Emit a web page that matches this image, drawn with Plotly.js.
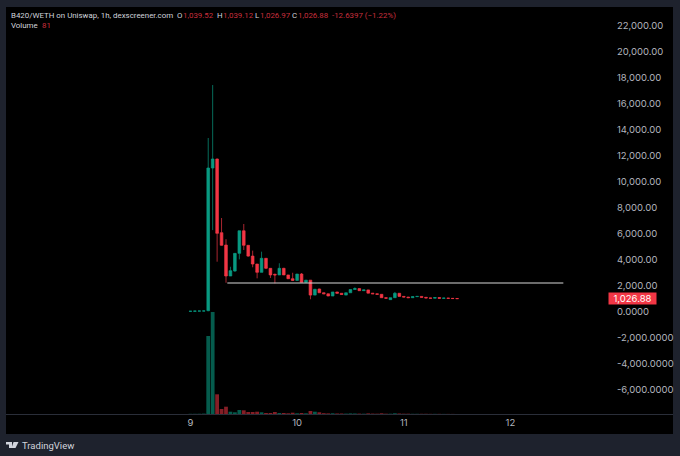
<!DOCTYPE html>
<html>
<head>
<meta charset="utf-8">
<script src="https://cdn.plot.ly/plotly-3.0.1.min.js"></script>
<style>html,body{margin:0;padding:0;background:#1e222d}#chart{width:680px;height:456px}</style>
</head>
<body>
<div id="chart"></div>
<script>
// hours since the start of the 9th, one candle per hour
var hours = [0,1,2,3,4,5,6,7,8,9,10,11,12,13,14,15,16,17,18,19,20,21,22,23,24,25,26,27,28,29,30,31,32,33,34,35,36,37,38,39,40,41,42,43,44,45,46,47,48,49,50,51,52,53,54,55,56,57,58,59,60];
var open_ = [50,60,70,75,100,11077,11770,6100,5150,2770,3150,4510,6250,5130,4300,3690,3050,4130,3360,2900,2850,3360,2850,2560,2430,2920,2280,2450,1300,1770,1480,1400,1230,1540,1440,1300,1480,1730,1800,1640,1700,1450,1400,1360,1100,950,1100,1440,1200,1150,1100,1180,1200,1130,1080,1060,1110,1050,1070,1050,1039.52];
var high_ = [60,70,80,90,13385,17460,11800,7230,5600,3480,4510,6250,6770,5130,4720,3690,4640,4130,3360,2950,3750,3400,2850,3020,2920,3000,2450,2450,1750,1800,1490,1410,1540,1550,1450,1480,1730,1900,1810,1700,1710,1460,1410,1370,1110,1100,1540,1450,1210,1160,1190,1210,1210,1140,1090,1120,1120,1080,1080,1060,1039.12];
var low_ = [50,60,70,75,60,6300,3870,5100,2250,2770,3100,4050,4770,4250,3440,2590,3050,3300,2620,2200,2850,2850,2560,2380,2430,2280,2280,980,1290,1470,1390,1220,1230,1430,1340,1300,1480,1730,1630,1640,1440,1390,1350,1090,1050,950,1100,1190,1140,1090,1100,1170,1120,1070,1050,1050,1040,1040,1040,1030,1026.97];
var close_ = [60,70,75,80,11077,11770,6050,5130,2770,3180,4510,6250,5130,4300,3690,3050,4130,3360,2850,2850,3360,2850,2560,2430,2920,2280,2450,1300,1750,1480,1400,1230,1540,1440,1350,1480,1730,1800,1640,1700,1450,1400,1360,1100,1060,1100,1440,1200,1150,1100,1180,1200,1130,1080,1060,1110,1050,1070,1050,1035,1026.88];
var volume = [2000,2000,2500,4000,780000,1020000,197000,50000,73000,23000,17000,40000,37000,20000,20000,23000,17000,10000,10000,20000,10000,10000,7000,13000,7000,10000,7000,30000,23000,17000,8000,6000,7000,5000,5000,4000,6000,5000,4000,3000,6000,4000,3000,7000,3000,3000,7000,5000,3000,3000,2000,2000,2000,2000,1500,1500,1500,1000,1000,800,81];

var levelHours = [8.3,83.9];
var levelPrice = [2230,2230];

var priceTicks = [-6000,-4000,-2000,0,2000,4000,6000,8000,10000,12000,14000,16000,18000,20000,22000];
var priceLabels = ['-6,000.0000','-4,000.0000','-2,000.0000','0.0000','2,000.00','4,000.00','6,000.00','8,000.00','10,000.00','12,000.00','14,000.00','16,000.00','18,000.00','20,000.00','22,000.00'];
var dayTicks = [0,24,48,72];
var dayLabels = ['9','10','11','12'];
var lastPrice = 1026.88;

var green = '#089981', red = '#f23645';
var font = 'Roboto, Inter, sans-serif';

var volColors = close_.map(function(c, i){
    return c >= open_[i] ? 'rgba(8,153,129,0.6)' : 'rgba(242,54,69,0.55)';
});

var volumeBars = {
    x: hours, y: volume, type: 'bar', yaxis: 'y2',
    marker: {color: volColors, line: {width: 0}},
    width: 0.85, hoverinfo: 'skip'
};
var candles = {
    x: hours, open: open_, high: high_, low: low_, close: close_,
    type: 'candlestick',
    increasing: {line: {color: green, width: 0.7}, fillcolor: green},
    decreasing: {line: {color: red, width: 0.7}, fillcolor: red}
};
var level = {
    x: levelHours, y: levelPrice, type: 'scatter', mode: 'lines',
    line: {color: '#d8d8d8', width: 1.2}, hoverinfo: 'skip'
};

// paper coords from window pixels
function px(x){ return (x - 6) / 600; }
function py(y){ return (414 - y) / 406; }

// annotations carry about 2px of padding, take it off so x is where the text starts
function header(text, x, y, color){
    return {text: text, xref: 'paper', yref: 'paper', x: px(x - 2), y: py(y), xanchor: 'left', yanchor: 'middle',
        showarrow: false, font: {family: font, size: 7.9, color: color}};
}

var dim = '#d1d4dc', redText = '#c92f3d';
var layout = {
    width: 680, height: 456,
    margin: {l: 6, r: 74, t: 8, b: 42},
    paper_bgcolor: '#1e222d', plot_bgcolor: '#000000',
    showlegend: false,
    boxgap: 0.15,
    font: {family: 'Inter, Roboto, sans-serif', color: '#b2b5be'},
    xaxis: {
        range: [-41.5, 93.5], tickmode: 'array', tickvals: dayTicks, ticktext: dayLabels,
        rangeslider: {visible: false}, showgrid: false, zeroline: false,
        showline: true, linecolor: '#2a2e39', linewidth: 1, ticks: '',
        tickfont: {size: 9.5, color: '#b2b5be'}
    },
    yaxis: {
        range: [-7846, 23385], side: 'right', tickmode: 'array', tickvals: priceTicks, ticktext: priceLabels,
        showgrid: false, zeroline: false, ticks: 'outside', ticklen: 8, tickcolor: 'rgba(0,0,0,0)',
        tickfont: {size: 9.5, color: '#b2b5be'}
    },
    yaxis2: {range: [0, 4060000], overlaying: 'y', visible: false},
    shapes: [
        {type: 'rect', layer: 'below', xref: 'paper', yref: 'paper', x0: 0, x1: px(673), y0: py(434), y1: py(7),
            fillcolor: '#000000', line: {width: 0}},
        {type: 'line', layer: 'above', xref: 'paper', yref: 'paper', x0: 0, x1: px(673), y0: py(414.5), y1: py(414.5),
            line: {color: '#2a2e39', width: 1}},
        // TradingView mark
        {type: 'path', xref: 'paper', yref: 'paper', fillcolor: '#d1d4dc', line: {width: 0},
            path: 'M ' + px(6) + ' ' + py(442) + ' L ' + px(12) + ' ' + py(442) + ' L ' + px(12) + ' ' + py(448) + ' L ' + px(9) + ' ' + py(448) + ' L ' + px(9) + ' ' + py(444.5) + ' L ' + px(6) + ' ' + py(444.5) + ' Z'},
        {type: 'path', xref: 'paper', yref: 'paper', fillcolor: '#d1d4dc', line: {width: 0},
            path: 'M ' + px(13.5) + ' ' + py(442) + ' L ' + px(18.5) + ' ' + py(442) + ' L ' + px(15.5) + ' ' + py(448) + ' L ' + px(11.5) + ' ' + py(448) + ' Z'}
    ],
    annotations: [
        header('B420/WETH on Uniswap, 1h, dexscreener.com', 11, 15.5, dim),
        header('O', 177, 15.5, dim),
        header('1,039.52', 183, 15.5, redText),
        header('H', 217, 15.5, dim),
        header('1,039.12', 223, 15.5, redText),
        header('L', 255, 15.5, dim),
        header('1,026.97', 260, 15.5, redText),
        header('C', 292, 15.5, dim),
        header('1,026.88', 298, 15.5, redText),
        header('-12.6397 (−1.22%)', 332, 15.5, redText),
        header('Volume', 11, 26, dim),
        header('81', 41.5, 26, redText),
        {text: '1,026.88', xref: 'paper', yref: 'y', x: px(632.5), y: lastPrice, xanchor: 'center', yanchor: 'middle',
            showarrow: false, bgcolor: red, width: 47, height: 11, borderpad: 0,
            font: {family: 'Inter, Roboto, sans-serif', size: 9.5, color: '#ffffff'}},
        {text: 'TradingView', xref: 'paper', yref: 'paper', x: px(19.5), y: py(445.5), xanchor: 'left', yanchor: 'middle',
            showarrow: false, font: {family: font, size: 9.5, color: '#d1d4dc'}}
    ]
};

Plotly.newPlot('chart', [volumeBars, candles, level], layout, {staticPlot: true, displayModeBar: false});
</script>
</body>
</html>
